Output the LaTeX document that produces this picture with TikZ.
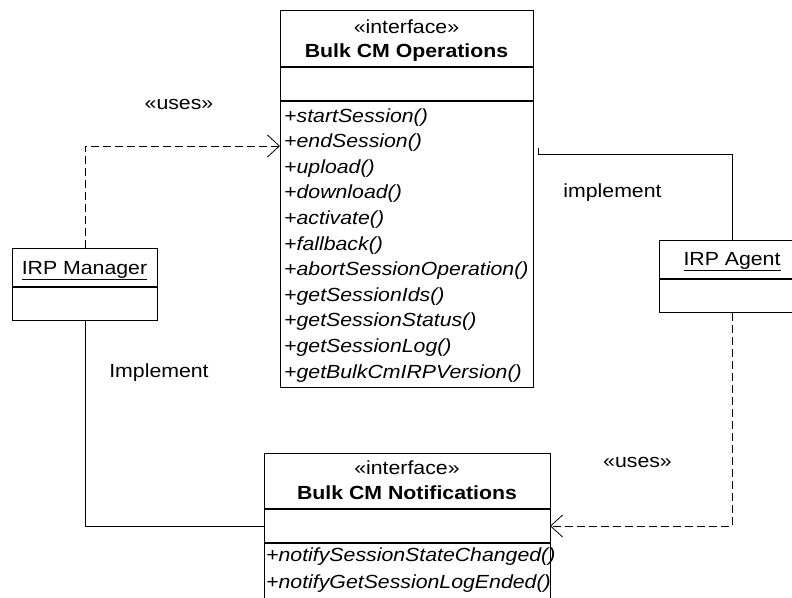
\documentclass[tikz,border=0pt]{standalone}
\usepackage{fontspec}
\setmainfont{Liberation Sans}[FakeStretch=1.12]
\usetikzlibrary{arrows.meta}
\tikzset{
  umlbox/.style={draw, line width=1.2pt, anchor=north west, inner sep=0pt},
  divider/.style={line width=1.4pt},
  txt/.style={anchor=base, inner sep=0pt, font=\fontsize{19}{23}\selectfont},
  method/.style={anchor=base west, inner sep=0pt, font=\fontsize{19}{23}\selectfont\itshape},
  conn/.style={line width=0.8pt},
  usesline/.style={conn, dash pattern=on 8pt off 4pt, -{Straight Barb[length=12pt,width=22pt,line width=0.8pt]}},
}
\begin{document}
\begin{tikzpicture}[x=1pt,y=-1pt]
\clip (0,0) rectangle (792,597);

% Bulk CM Operations
\node[umlbox, minimum width=253pt, minimum height=377pt] (ops) at (280,10) {};
\draw[divider] (ops.west |- 0,67) -- (ops.east |- 0,67);
\draw[divider] (ops.west |- 0,101) -- (ops.east |- 0,101);
\node[txt] (opsst) at (406.5,33) {«interface»};
\node[txt, font=\fontsize{19}{23}\selectfont\bfseries] (opsname) at (406.5,57) {Bulk CM Operations};
\foreach \t [count=\i] in {startSession,endSession,upload,download,activate,fallback,abortSessionOperation,getSessionIds,getSessionStatus,getSessionLog,getBulkCmIRPVersion}
  \node[method] (opm\i) at (284,{122+(\i-1)*25.6}) {+\t()};

% IRP Manager
\node[umlbox, minimum width=145pt, minimum height=72pt] (mgr) at (12,248) {};
\draw[divider] (mgr.west |- 0,287) -- (mgr.east |- 0,287);
\node[txt] (mgrname) at (84.5,274) {\underline{IRP Manager}};

% IRP Agent
\node[umlbox, minimum width=146pt, minimum height=72pt] (agent) at (659,240) {};
\draw[divider] (agent.west |- 0,279) -- (agent.east |- 0,279);
\node[txt] (agentname) at (732,265) {\underline{IRP Agent}};

% Bulk CM Notifications
\node[umlbox, minimum width=286pt, minimum height=170pt] (notif) at (264,453) {};
\draw[divider] (notif.west |- 0,509) -- (notif.east |- 0,509);
\draw[divider] (notif.west |- 0,543) -- (notif.east |- 0,543);
\node[txt] (notifst) at (407,474) {«interface»};
\node[txt, font=\fontsize{19}{23}\selectfont\bfseries] (notifname) at (407,499) {Bulk CM Notifications};
\node[method] (nm1) at (266,561) {+notifySessionStateChanged()};
\node[method] (nm2) at (266,588) {+notifyGetSessionLogEnded()};

% connector end points
\coordinate (opsIn) at (280,146);
\coordinate (opsImpl) at (538,148);
\coordinate (notifL) at (264,526);
\coordinate (notifR) at (550,526);

% connectors
\draw[usesline] (mgr.north) |- (opsIn);
\draw[conn] (opsImpl) -- ++(0,6) -| (agent.north);
\draw[conn] (mgr.south) |- (notifL);
\draw[usesline] (agent.south) |- (notifR);

% labels
\node[txt] (uses1) at (179,109) {«uses»};
\node[txt] (impl1) at (159,377) {Implement};
\node[txt] (impl2) at (612.5,197) {implement};
\node[txt] (uses2) at (637.5,467) {«uses»};
\end{tikzpicture}
\end{document}
